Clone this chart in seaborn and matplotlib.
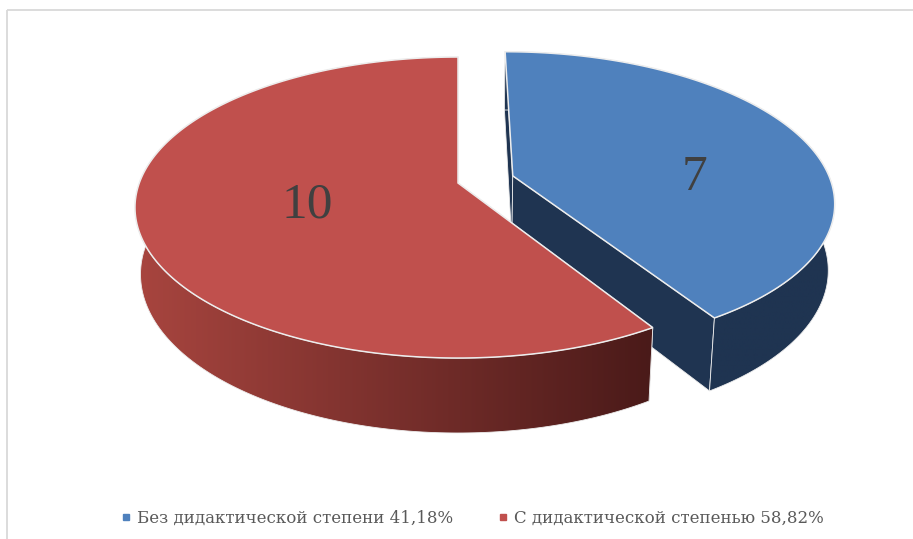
import numpy as np
import matplotlib
matplotlib.use("Agg")
import matplotlib.pyplot as plt
from matplotlib.patches import Polygon, Rectangle
from matplotlib.lines import Line2D
from matplotlib.colors import LinearSegmentedColormap
import seaborn as sns

# data
categories = ["Без дидактической степени", "С дидактической степенью"]
counts = [7, 10]
share_labels = ["41,18%", "58,82%"]

# styles
top_colors = ["#4F81BD", "#C0504D"]
side_colors = [("#1F3451", "#1F3451"), ("#A8453F", "#4A1A19")]
explode = [0.18, 0.0]
label_r = [0.62, 0.48]
label_dy = [26, 3]
edge_col = "#EDEDED"

# fake 3d projection (perspective tilt), in pixel units
CX, CY = 458, 183
A, B, C = 318.7, 146.5, 67
K, M = 0.163, 0.017


def project(u, v, z):
    w = 1 - K * v - M * z
    return CX + A * u / w, CY + (B * v - C * z) / w


def rim(t0, t1, du, dv, z, n=240):
    th = np.radians(np.linspace(t0, t1, n))
    x, y = project(np.sin(th) + du, -np.cos(th) + dv, z)
    return np.column_stack([x, y])


sns.set_theme(style="white")
plt.rcParams["font.family"] = ["DejaVu Serif"]

fig = plt.figure(figsize=(9.13, 5.39), dpi=100)
ax = fig.add_axes([0, 0, 1, 1])

fracs = np.array(counts) / np.sum(counts)
bounds = np.concatenate([[0], np.cumsum(fracs) * 360])

for i in range(len(counts)):
    t0, t1 = bounds[i], bounds[i + 1]
    mid = np.radians((t0 + t1) / 2)
    du, dv = explode[i] * np.sin(mid), -explode[i] * np.cos(mid)
    base = 1 + i * 5

    apex_top = np.array(project(du, dv, 0))
    apex_bot = np.array(project(du, dv, -1))

    # cut faces
    for t in (t0, t1):
        face = np.vstack([apex_top, rim(t, t, du, dv, 0, 1), rim(t, t, du, dv, -1, 1), apex_bot])
        ax.add_patch(Polygon(face, closed=True, facecolor=side_colors[i][1],
                             edgecolor=edge_col, lw=0.6, zorder=base))

    # outer wall with horizontal gradient
    band = np.vstack([rim(t0, t1, du, dv, 0), rim(t1, t0, du, dv, -1)])
    band_patch = Polygon(band, closed=True, facecolor="none", edgecolor=edge_col,
                         lw=0.6, zorder=base + 1.1)
    ax.add_patch(band_patch)
    cmap = LinearSegmentedColormap.from_list(f"wall{i}", list(side_colors[i]))
    x0, x1 = band[:, 0].min(), band[:, 0].max()
    y0, y1 = band[:, 1].min(), band[:, 1].max()
    im = ax.imshow(np.linspace(0, 1, 256).reshape(1, -1), cmap=cmap, aspect="auto",
                   extent=(x0, x1, y1, y0), zorder=base + 1, interpolation="bilinear")
    im.set_clip_path(band_patch)

    # top face
    top = np.vstack([apex_top, rim(t0, t1, du, dv, 0)])
    ax.add_patch(Polygon(top, closed=True, facecolor=top_colors[i],
                         edgecolor=edge_col, lw=1.1, zorder=base + 2))

    # value label
    r = label_r[i]
    lx, ly = project(r * np.sin(mid) + du, -r * np.cos(mid) + dv, 0)
    ax.text(lx, ly + label_dy[i], str(counts[i]), ha="center", va="center",
            fontsize=37, color="#404040", family=["Liberation Serif"], zorder=20)

# chart area border
ax.add_patch(Rectangle((7, 10), 950, 600, fill=False, edgecolor="#D9D9D9", lw=1.3, zorder=0))

ax.set_xlim(0, 913)
ax.set_ylim(539, 0)
ax.axis("off")

handles = [Line2D([], [], marker="s", linestyle="", markersize=4.5, color=c) for c in top_colors]
labels = [f"{c} {s}" for c, s in zip(categories, share_labels)]
fig.legend(handles, labels, loc="center", bbox_to_anchor=(472 / 913, 1 - 518 / 539),
           ncol=2, frameon=False, handlelength=0.6, handletextpad=0.35, columnspacing=2.7,
           prop={"family": "DejaVu Serif", "size": 12}, labelcolor="#595959")

fig.savefig("out.png", dpi=100)
